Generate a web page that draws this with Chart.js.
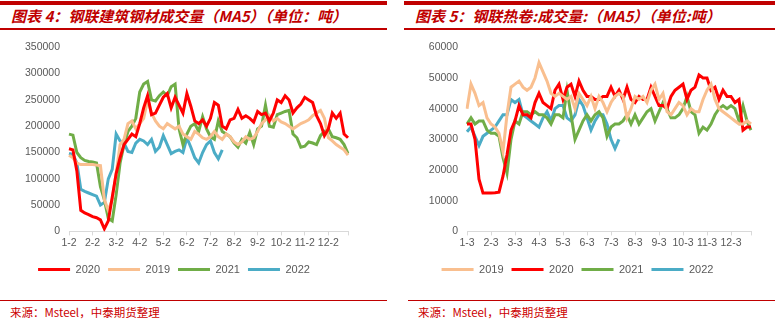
<!DOCTYPE html>
<html lang="zh">
<head>
  <meta charset="UTF-8" />
  <title>钢联成交量</title>
  <script src="https://cdn.jsdelivr.net/npm/chart.js"></script>
  <style>
    body { margin: 0; width: 775px; height: 322px; background: #fff; position: relative; overflow: hidden; }
    .panel { position: absolute; top: 0; height: 322px; }
    .bar-top { position: absolute; left: 0; right: 0; top: 1px; height: 4px; background: #c00000; }
    .bar-mid { position: absolute; left: 0; right: 0; top: 28px; height: 2px; background: #c00000; }
    .title { position: absolute; top: 5px; font: italic bold 15px "Noto Sans CJK SC", sans-serif; color: #c00000; white-space: nowrap; }
    .chart-box { position: absolute; left: 0; top: 32px; height: 263px; }
    .foot-line { position: absolute; left: 0; right: 0; top: 300px; height: 1px; background: #c00000; }
    .source { position: absolute; top: 304px; font: 11.5px "Noto Sans CJK SC", sans-serif; color: #cc0000; white-space: nowrap; }
  </style>
</head>
<body>
  <!-- left: 建筑钢材 -->
  <div class="panel" style="left:0; width:387px;">
    <div class="bar-top"></div>
    <div class="title" style="left:11px;">图表 4：钢联建筑钢材成交量（MA5）（单位：吨）</div>
    <div class="bar-mid"></div>
    <div class="chart-box" style="width:387px;"><canvas id="leftChart"></canvas></div>
    <div class="foot-line"></div>
    <div class="source" style="left:10px;">来源：Msteel，中泰期货整理</div>
  </div>

  <!-- right: 热卷 -->
  <div class="panel" style="left:404px; width:371px;">
    <div class="bar-top"></div>
    <div class="title" style="left:11px;">图表 5：钢联热卷:成交量:（MA5）（单位:吨）</div>
    <div class="bar-mid"></div>
    <div class="chart-box" style="width:371px;"><canvas id="rightChart"></canvas></div>
    <div class="foot-line" style="left:4px;"></div>
    <div class="source" style="left:14px;">来源：Msteel，中泰期货整理</div>
  </div>

  <script>
    // month tick labels (6 samples per month, ~5 days apart)
    const ticksLeft = ['1-2', '2-2', '3-2', '4-2', '5-2', '6-2', '7-2', '8-2', '9-2', '10-2', '11-2', '12-2'];
    const ticksRight = ['1-3', '2-3', '3-3', '4-3', '5-3', '6-3', '7-3', '8-3', '9-3', '10-3', '11-3', '12-3'];
    const perMonth = 6;

    // 建筑钢材成交量 (吨)
    const build2020 = [157000, 155000, 115000, 40000, 35000, 32000, 28000, 26000, 22000, 5000, 20000, 65000,
      110000, 140000, 165000, 175000, 185000, 180000, 205000, 235000, 258000, 222000, 225000, 240000,
      255000, 262000, 235000, 255000, 240000, 225000, 262000, 238000, 210000, 205000, 212000, 200000,
      215000, 245000, 240000, 200000, 195000, 212000, 215000, 232000, 215000, 220000, 215000, 208000,
      228000, 222000, 225000, 210000, 225000, 250000, 245000, 258000, 250000, 225000, 235000, 242000,
      255000, 250000, 245000, 220000, 205000, 182000, 195000, 225000, 215000, 225000, 185000, 178000];
    const build2019 = [145000, 140000, 130000, 127000, 127000, 127000, 127000, 126000, 125000, 60000, 40000, 60000,
      110000, 165000, 175000, 205000, 210000, 195000, 205000, 215000, 250000, 225000, 210000, 200000,
      195000, 205000, 200000, 195000, 200000, 185000, 180000, 175000, 190000, 185000, 178000, 175000,
      180000, 190000, 180000, 175000, 185000, 180000, 170000, 165000, 170000, 180000, 175000, 178000,
      190000, 205000, 212000, 220000, 210000, 215000, 208000, 205000, 200000, 195000, 200000, 205000,
      208000, 212000, 220000, 225000, 230000, 215000, 178000, 172000, 165000, 160000, 155000, 145000];
    const build2021 = [185000, 183000, 150000, 140000, 135000, 133000, 132000, 130000, 85000, 60000, 25000, 20000,
      70000, 130000, 165000, 190000, 200000, 215000, 265000, 280000, 285000, 250000, 248000, 258000,
      265000, 258000, 275000, 280000, 195000, 165000, 185000, 200000, 205000, 190000, 218000, 195000,
      180000, 175000, 210000, 190000, 185000, 180000, 168000, 160000, 175000, 168000, 188000, 165000,
      195000, 200000, 240000, 200000, 198000, 222000, 225000, 228000, 230000, 185000, 178000, 160000,
      162000, 170000, 168000, 165000, 182000, 190000, 195000, 180000, 178000, 175000, 165000, 148000];
    const build2022 = [148000, 146000, 130000, 80000, 76000, 73000, 70000, 67000, 50000, 55000, 100000, 118000,
      185000, 172000, 168000, 152000, 150000, 168000, 175000, 172000, 165000, 175000, 152000, 160000,
      182000, 165000, 148000, 152000, 155000, 150000, 178000, 160000, 140000, 130000, 150000, 165000,
      172000, 150000, 138000, 155000];

    // 热卷成交量 (吨)
    const coil2019 = [40000, 48000, 45000, 41000, 42000, 37000, 35000, 34000, 32000, 26000, 38000, 47000,
      48000, 49000, 47000, 46000, 47000, 50000, 55000, 52000, 49000, 45000, 44000, 45000,
      44000, 43000, 44000, 40000, 45000, 43000, 41000, 44000, 40000, 44000, 42000, 39000,
      42000, 44000, 45000, 44000, 37000, 40000, 44000, 43000, 44000, 42000, 46000, 48000,
      43000, 45000, 39000, 38000, 40000, 42000, 41000, 38000, 40000, 39000, 39000, 43000,
      46000, 48000, 43000, 40000, 39000, 38000, 37000, 36000, 35000, 35000, 36000, 35000];
    const coil2020 = [35000, 35000, 30000, 17000, 12500, 12500, 12500, 12600, 12800, 18000, 25000, 33000,
      36000, 41000, 38000, 38000, 37000, 42000, 45000, 42000, 41000, 40000, 46000, 48000,
      43000, 47000, 48000, 44000, 49000, 46000, 44000, 44000, 43000, 43000, 44000, 44000,
      47000, 44000, 46000, 43000, 47000, 43000, 42000, 44000, 43000, 43000, 47000, 44000,
      41000, 41000, 40000, 44000, 46000, 47000, 48000, 43000, 46000, 47000, 51000, 50000,
      50000, 46000, 47000, 43000, 46000, 44000, 44000, 42000, 43000, 33000, 34000, 34000];
    const coil2021 = [35000, 37000, 35000, 36000, 36000, 33000, 32000, 32000, 31000, 24000, 19000, 30000,
      36000, 35000, 39000, 39000, 38000, 39000, 38000, 38000, 37000, 35000, 38000, 38000,
      37000, 46000, 38000, 30000, 33000, 36000, 38000, 36000, 38000, 39000, 37000, 31000,
      34000, 35000, 35000, 36000, 38000, 35000, 38000, 35000, 37000, 39000, 40000, 36000,
      39000, 42000, 40000, 37000, 37000, 38000, 40000, 44000, 39000, 38000, 32000, 34000,
      33000, 35000, 38000, 40000, 41000, 40000, 41000, 40000, 36000, 41000, 36000, 33000];
    const coil2022 = [32500, 34000, 31000, 28000, 31000, 32000, 33000, 34000, 36000, 38000, 38000, 43000,
      42000, 43000, 38000, 37000, 36000, 35000, 34000, 37000, 39000, 36000, 40000, 41000,
      41000, 37000, 36000, 38000, 43000, 41000, 37000, 33000, 36000, 38000, 38000, 35000,
      30000, 27000, 30000];

    const colors = { '2019': '#f9bf8f', '2020': '#ff0000', '2021': '#70ad47', '2022': '#4bacc6' };

    function categories(ticks) {
      const out = [];
      ticks.forEach(t => {
        out.push(t);
        for (let k = 1; k < perMonth; k++) out.push('');
      });
      return out;
    }

    function makeChart(id, ticks, series, yMax, yStep, yWidth, padRight) {
      const labels = categories(ticks);
      const last = labels.length - 1;
      new Chart(document.getElementById(id), {
        type: 'line',
        data: {
          labels: labels,
          datasets: series.map(s => ({
            label: s.label,
            data: s.data,
            borderColor: colors[s.label],
            backgroundColor: colors[s.label],
            borderWidth: 3,
            pointRadius: 0,
            tension: 0,
            fill: false
          }))
        },
        options: {
          responsive: true,
          maintainAspectRatio: false,
          animation: false,
          layout: { padding: { top: 15, right: padRight, bottom: 10, left: 0 } },
          scales: {
            x: {
              grid: {
                drawOnChartArea: false,
                tickLength: 4,
                color: ctx => (ctx.index % perMonth === 0 || ctx.index === last) ? '#d9d9d9' : 'rgba(0,0,0,0)'
              },
              border: { color: '#d9d9d9' },
              ticks: {
                autoSkip: false,
                maxRotation: 0,
                padding: 1,
                color: '#595959',
                font: { family: 'Liberation Sans', size: 10.5 }
              },
              afterFit: s => { s.height += 6; }
            },
            y: {
              min: 0,
              max: yMax,
              grid: { display: false, drawTicks: false },
              border: { display: false },
              ticks: {
                stepSize: yStep,
                padding: 9,
                color: '#595959',
                font: { family: 'Liberation Sans', size: 10.5 },
                callback: v => String(v)
              },
              afterFit: s => { s.width = yWidth; }
            }
          },
          plugins: {
            legend: {
              position: 'bottom',
              labels: {
                boxWidth: 32,
                boxHeight: 3,
                padding: 8,
                color: '#595959',
                font: { family: 'Liberation Sans', size: 11 },
                generateLabels: chart => Chart.defaults.plugins.legend.labels.generateLabels(chart)
                  .map(item => Object.assign(item, { lineWidth: 0 }))
              }
            },
            tooltip: { enabled: false }
          }
        }
      });
    }

    makeChart('leftChart', ticksLeft, [
      { label: '2020', data: build2020 },
      { label: '2019', data: build2019 },
      { label: '2021', data: build2021 },
      { label: '2022', data: build2022 }
    ], 350000, 50000, 69, 39);

    makeChart('rightChart', ticksRight, [
      { label: '2019', data: coil2019 },
      { label: '2020', data: coil2020 },
      { label: '2021', data: coil2021 },
      { label: '2022', data: coil2022 }
    ], 60000, 10000, 63, 24);
  </script>
</body>
</html>
